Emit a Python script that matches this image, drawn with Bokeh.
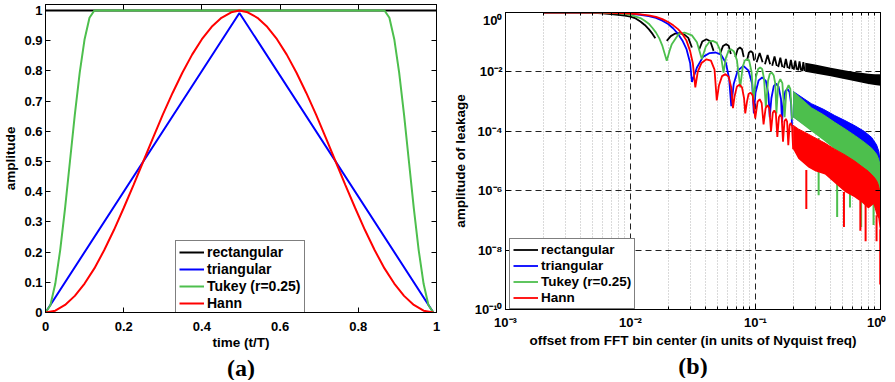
import math
from bokeh.plotting import figure
from bokeh.layouts import row, column
from bokeh.models import FixedTicker, LinearAxis, Legend, LegendItem, Title, Spacer
from bokeh.embed import file_html
from bokeh.resources import INLINE

nan = float("nan")
FONT = "Liberation Sans"
C_BLACK = "#000000"
C_BLUE = "#0000FF"
C_GREEN = "#4DBF4D"
C_RED = "#FF0000"

# ---------------- panel (a): window shapes ----------------
t_rect = [0.0, 1.0]
w_rect = [1.0, 1.0]

t_tri = [0.0, 0.496, 0.992]
w_tri = [0.0, 0.992, 0.0]

t_tukey = [0.0, 0.0125, 0.025, 0.0375, 0.05, 0.0625, 0.075, 0.0875, 0.1, 0.1125, 0.125,
           0.867, 0.8795, 0.892, 0.9045, 0.917, 0.9295, 0.942, 0.9545, 0.967, 0.9795, 0.992]
w_tukey = [0.0, 0.024, 0.095, 0.206, 0.345, 0.5, 0.655, 0.794, 0.905, 0.976, 1.0,
           1.0, 0.976, 0.905, 0.794, 0.655, 0.5, 0.345, 0.206, 0.095, 0.024, 0.0]

t_hann = [0.0, 0.025, 0.05, 0.075, 0.1, 0.125, 0.15, 0.175, 0.2, 0.225, 0.25, 0.275, 0.3,
          0.325, 0.35, 0.375, 0.4, 0.425, 0.45, 0.475, 0.496,
          0.517, 0.542, 0.567, 0.592, 0.617, 0.642, 0.667, 0.692, 0.717, 0.742, 0.767,
          0.792, 0.817, 0.842, 0.867, 0.892, 0.917, 0.942, 0.967, 0.992]
w_hann = [0.0, 0.006, 0.025, 0.055, 0.096, 0.146, 0.206, 0.273, 0.346, 0.422, 0.5, 0.578, 0.655,
          0.727, 0.794, 0.854, 0.905, 0.946, 0.976, 0.994, 1.0,
          0.994, 0.976, 0.946, 0.905, 0.854, 0.794, 0.727, 0.655, 0.578, 0.5, 0.422,
          0.346, 0.273, 0.206, 0.146, 0.096, 0.055, 0.025, 0.006, 0.0]

a_xticks = [0, 0.2, 0.4, 0.6, 0.8, 1]
a_xlabels = ["0", "0.2", "0.4", "0.6", "0.8", "1"]
a_yticks = [0, 0.1, 0.2, 0.3, 0.4, 0.5, 0.6, 0.7, 0.8, 0.9, 1]
a_ylabels = ["0", "0.1", "0.2", "0.3", "0.4", "0.5", "0.6", "0.7", "0.8", "0.9", "1"]

# ---------------- panel (b): leakage spectra ----------------
rect_x = [0.002, 0.003, 0.004, 0.005, 0.006, 0.007, 0.008, 0.009, 0.010, 0.011, 0.012, 0.013, 0.014, 0.015, 0.0158, nan,
          0.0195, 0.021, 0.0228, 0.025, 0.027, 0.029, 0.031, nan,
          0.0355, 0.0375, 0.0405, 0.0435, 0.0462, nan,
          0.052, 0.055, 0.058, 0.061, 0.0635, nan,
          0.069, 0.072, 0.075, 0.078, 0.0805, nan,
          0.0855, 0.0885, 0.0917, 0.095, 0.0975, nan,
          0.102, 0.108, 0.114, nan,
          0.119, 0.125, 0.131, nan,
          0.136, 0.142, 0.148, nan,
          0.152, 0.158, 0.164, nan,
          0.169, 0.175, 0.181, nan,
          0.186, 0.192, 0.198, nan,
          0.202, 0.208, 0.214, nan,
          0.219, 0.225, 0.231, nan,
          0.236, 0.2415, 0.247]
rect_y = [0.998, 0.995, 0.985, 0.97, 0.94, 0.885, 0.84, 0.79, 0.73, 0.63, 0.50, 0.38, 0.275, 0.19, 0.136, nan,
          0.111, 0.16, 0.195, 0.20, 0.18, 0.14, 0.066, nan,
          0.058, 0.105, 0.126, 0.108, 0.051, nan,
          0.040, 0.075, 0.086, 0.076, 0.040, nan,
          0.032, 0.058, 0.066, 0.058, 0.032, nan,
          0.024, 0.044, 0.050, 0.044, 0.024, nan,
          0.021, 0.043, 0.021, nan,
          0.018, 0.037, 0.018, nan,
          0.016, 0.033, 0.016, nan,
          0.0145, 0.030, 0.0145, nan,
          0.0135, 0.0275, 0.0135, nan,
          0.0125, 0.0255, 0.0125, nan,
          0.0118, 0.0238, 0.0118, nan,
          0.0112, 0.0225, 0.0112, nan,
          0.0106, 0.0213, 0.0106]
rect_band_x = [0.25, 0.3, 0.4, 0.5, 0.6, 0.7, 0.8, 0.9, 1.0]
rect_band_hi = [0.0205, 0.0176, 0.0138, 0.0116, 0.0102, 0.0093, 0.0087, 0.0084, 0.0083]
rect_band_lo = [0.0101, 0.0089, 0.0072, 0.0059, 0.0050, 0.0044, 0.0039, 0.0036, 0.0034]

tri_x = [0.002, 0.004, 0.006, 0.008, 0.010, 0.012, 0.014, 0.016, 0.018, 0.020, 0.022, 0.024, 0.026, 0.028, 0.030, 0.031,
         0.034, 0.038, 0.043, 0.048, 0.053, 0.058, 0.0615, 0.064,
         0.067, 0.072, 0.080, 0.088, 0.094, 0.097,
         0.100, 0.106, 0.113, 0.121, 0.127, 0.130,
         0.134, 0.140, 0.146, 0.153, 0.160, 0.163,
         0.167, 0.173, 0.180, 0.187, 0.193, 0.196]
tri_y = [0.999, 0.99, 0.975, 0.95, 0.90, 0.84, 0.76, 0.66, 0.53, 0.41, 0.29, 0.19, 0.115, 0.06, 0.02, 0.0046,
         0.014, 0.032, 0.043, 0.045, 0.038, 0.02, 0.006, 0.0007,
         0.004, 0.011, 0.016, 0.011, 0.004, 0.0004,
         0.002, 0.0052, 0.0065, 0.005, 0.0017, 0.0003,
         0.0013, 0.0033, 0.004, 0.0032, 0.0012, 0.0002,
         0.0009, 0.0022, 0.0027, 0.0021, 0.0008, 0.00015]
tri_band_x = [0.2, 0.28, 0.35, 0.43, 0.52, 0.63, 0.74, 0.85, 0.93, 0.97, 1.0]
tri_band_hi = [0.0022, 0.00085, 0.00055, 0.00034, 0.00023, 0.00015, 0.0001, 0.000062, 0.000035, 0.000021, 0.000008]
tri_band_lo = [0.0003, 0.00011, 0.00007, 0.00004, 0.000027, 0.000017, 0.000011, 0.000007, 0.000004, 0.0000025, 0.0000012]

tuk_x = [0.002, 0.004, 0.006, 0.008, 0.010, 0.012, 0.013, 0.014, 0.015, 0.016, 0.017, 0.018, 0.0195,
         0.0205, 0.0214, 0.0242, 0.027, 0.031, 0.034, 0.0372,
         0.040, 0.043, 0.0455, 0.049, 0.052, 0.0555,
         0.058, 0.061, 0.0635, 0.067, 0.071, 0.0755,
         0.079, 0.082, 0.085, 0.089, 0.093, 0.0964,
         0.101, 0.105, 0.109, 0.113, 0.117, 0.121,
         0.126, 0.130, 0.135, 0.140, 0.144, 0.147,
         0.152, 0.158, 0.164, 0.171,
         0.177, 0.184, 0.190, 0.196]
tuk_y = [0.999, 0.99, 0.97, 0.93, 0.83, 0.65, 0.53, 0.42, 0.30, 0.21, 0.135, 0.075, 0.0236,
         0.05, 0.086, 0.186, 0.212, 0.17, 0.10, 0.027,
         0.07, 0.105, 0.111, 0.095, 0.055, 0.0095,
         0.03, 0.052, 0.058, 0.05, 0.025, 0.003,
         0.015, 0.024, 0.027, 0.024, 0.01, 0.0011,
         0.007, 0.0125, 0.014, 0.0125, 0.006, 0.00063,
         0.005, 0.0085, 0.0095, 0.0075, 0.004, 0.0004,
         0.004, 0.0057, 0.0042, 0.0003,
         0.0025, 0.0036, 0.0027, 0.00025]
tuk_band_x = [0.2, 0.28, 0.35, 0.43, 0.52, 0.63, 0.74, 0.85, 0.93, 0.97, 1.0]
tuk_band_hi = [0.0022, 0.00062, 0.00036, 0.0002, 0.00012, 0.00007, 0.000043, 0.000027, 0.000017, 0.000011, 0.000006]
tuk_band_lo = [0.0003, 0.0001, 0.00005, 0.000025, 0.000015, 0.000008, 0.000005, 0.000003, 0.0000015, 0.0000008, 0.0000005]
tuk_spike_x = [0.32, 0.45, 0.57, 0.70, 0.80, 0.88]
tuk_spike_hi = [6e-5, 2.3e-5, 1.3e-5, 6e-6, 4e-6, 2.5e-6]
tuk_spike_lo = [7e-7, 1.3e-7, 2.7e-7, 6e-8, 5e-7, 7e-8]

hann_x = [0.002, 0.004, 0.006, 0.008, 0.010, 0.012, 0.014, 0.016, 0.018, 0.020, 0.022, 0.024, 0.026, 0.028, 0.030, 0.0315, 0.033,
          0.0345, 0.037, 0.0405, 0.044, 0.047, 0.049,
          0.051, 0.054, 0.0575, 0.061, 0.064, 0.066,
          0.068, 0.071, 0.0745, 0.078, 0.081, 0.0828,
          0.0855, 0.088, 0.0915, 0.095, 0.0995,
          0.104, 0.108, 0.112, 0.116,
          0.1205, 0.125, 0.129, 0.133,
          0.1375, 0.1415, 0.1455, 0.1495,
          0.154, 0.158, 0.162, 0.166,
          0.1705, 0.175, 0.179, 0.183,
          0.1875, 0.1915, 0.196, 0.2]
hann_y = [1.0, 0.995, 0.985, 0.96, 0.925, 0.87, 0.80, 0.71, 0.60, 0.48, 0.37, 0.275, 0.19, 0.115, 0.05, 0.02, 0.003,
          0.01, 0.02, 0.0265, 0.024, 0.012, 0.0011,
          0.0035, 0.0072, 0.0084, 0.0068, 0.003, 0.0006,
          0.0015, 0.0032, 0.0037, 0.003, 0.0013, 0.0004,
          0.001, 0.0018, 0.002, 0.0016, 0.00027,
          0.001, 0.0012, 0.0009, 0.00017,
          0.0006, 0.00075, 0.0006, 0.0001,
          0.00042, 0.0005, 0.0004, 0.000065,
          0.0003, 0.00036, 0.0003, 0.000045,
          0.00022, 0.00026, 0.00021, 0.000034,
          0.00016, 0.00019, 0.00015, 0.000025]
hann_band_x = [0.2, 0.22, 0.265, 0.3, 0.36, 0.43, 0.52, 0.62, 0.71, 0.8, 0.88, 0.93, 0.96, 0.98, 1.0]
hann_band_hi = [1.6e-4, 1.2e-4, 8e-5, 6e-5, 4e-5, 2.5e-5, 1.6e-5, 1.0e-5, 6.5e-6, 4.5e-6, 3e-6, 2.2e-6, 1.6e-6, 1.1e-6, 6e-7]
hann_band_lo = [2.5e-5, 1.2e-5, 6e-6, 4.5e-6, 3.5e-6, 1.8e-6, 9e-7, 6e-7, 4e-7, 2.5e-7, 3.5e-7, 1.5e-7, 1.2e-7, 6e-8, 4e-8]
hann_spike_x = [0.255, 0.51, 0.69, 0.76, 0.93, 0.995]
hann_spike_hi = [5e-6, 9e-7, 4.5e-7, 3.5e-7, 1.5e-7, 5e-8]
hann_spike_lo = [2.4e-7, 6e-8, 4.5e-8, 2e-8, 2e-8, 7e-10]

b_xticks = [1e-3, 1e-2, 1e-1, 1.0]
b_xlabels = ["10\u207b\u00b3", "10\u207b\u00b2", "10\u207b\u00b9", "10\u2070"]
b_xminor = [m * d for d in (1e-3, 1e-2, 1e-1) for m in (2, 3, 4, 5, 6, 7, 8, 9)]
b_yticks = [1e-10, 1e-8, 1e-6, 1e-4, 1e-2, 1.0]
b_ylabels = ["10\u207b\u00b9\u2070", "10\u207b\u2078", "10\u207b\u2076", "10\u207b\u2074", "10\u207b\u00b2", "10\u2070"]

labels = ["rectangular", "triangular", "Tukey (r=0.25)", "Hann"]


def style_axis(ax, label_size="13px"):
    ax.major_tick_in = 5
    ax.major_tick_out = 0
    ax.minor_tick_in = 0
    ax.minor_tick_out = 0
    ax.axis_line_color = "black"
    ax.major_tick_line_color = "black"
    ax.major_label_text_font = FONT
    ax.major_label_text_font_style = "bold"
    ax.major_label_text_font_size = label_size
    ax.major_label_text_color = "black"
    ax.axis_label_text_font = FONT
    ax.axis_label_text_font_style = "bold"
    ax.axis_label_text_font_size = "13.5px"
    ax.axis_label_text_color = "black"


def box_axis(ticks, minor=None):
    ax = LinearAxis(ticker=FixedTicker(ticks=ticks, minor_ticks=minor or []))
    ax.major_label_overrides = {t: " " for t in ticks}
    ax.major_label_text_font_size = "1px"
    ax.major_label_text_alpha = 0.0
    ax.major_label_standoff = 0
    ax.major_tick_in = 5
    ax.major_tick_out = 0
    ax.minor_tick_in = 3 if minor else 0
    ax.minor_tick_out = 0
    ax.axis_line_color = "black"
    return ax


def make_legend(items, loc, size, lh):
    leg = Legend(items=items, location=loc)
    leg.border_line_color = "black"
    leg.border_line_width = 1
    leg.background_fill_color = "white"
    leg.background_fill_alpha = 1.0
    leg.label_text_font = FONT
    leg.label_text_font_style = "bold"
    leg.label_text_font_size = size
    leg.label_text_color = "black"
    leg.glyph_width = 25
    leg.glyph_height = lh
    leg.label_height = lh
    leg.label_standoff = 3
    leg.padding = 3
    leg.spacing = 1
    leg.margin = 0
    return leg


def panel_tag(text):
    return Title(text=text, align="center", text_font="Liberation Serif", text_font_size="24px",
                 text_font_style="bold", text_color="black", standoff=0)


# ---------------- figure (a) ----------------
p1 = figure(frame_width=391, frame_height=308, x_range=(0, 1), y_range=(0, 1.0199),
            output_backend="svg", toolbar_location=None, title=None,
            min_border_left=39, min_border_right=8, min_border_top=0, min_border_bottom=0)
p1.grid.visible = False
p1.outline_line_color = "black"
p1.background_fill_color = "white"
p1.border_fill_color = "white"
p1.xaxis.ticker = FixedTicker(ticks=a_xticks)
p1.xaxis.major_label_overrides = dict(zip(a_xticks, a_xlabels))
p1.yaxis.ticker = FixedTicker(ticks=a_yticks)
p1.yaxis.major_label_overrides = dict(zip(a_yticks, a_ylabels))
p1.xaxis.axis_label = "time (t/T)"
p1.yaxis.axis_label = "amplitude"
for ax in p1.xaxis + p1.yaxis:
    style_axis(ax)
p1.xaxis.major_label_standoff = 9
p1.xaxis.axis_label_standoff = 1
p1.yaxis.major_label_standoff = 3
p1.yaxis.axis_label_standoff = 3
p1.add_layout(box_axis(a_xticks), "above")
p1.add_layout(box_axis(a_yticks), "right")

ra1 = p1.line(t_rect, w_rect, line_color=C_BLACK, line_width=2)
ra2 = p1.line(t_tri, w_tri, line_color=C_BLUE, line_width=2)
ra3 = p1.line(t_tukey, w_tukey, line_color=C_GREEN, line_width=2)
ra4 = p1.line(t_hann, w_hann, line_color=C_RED, line_width=2)
leg1 = make_legend([LegendItem(label=l, renderers=[r]) for l, r in zip(labels, [ra1, ra2, ra3, ra4])],
                   (130, -3), "14px", 16)
p1.add_layout(leg1)
p1.add_layout(panel_tag("(a)"), "below")

# ---------------- figure (b) ----------------
p2 = figure(frame_width=375, frame_height=297, x_axis_type="log", y_axis_type="log",
            x_range=(1e-3, 1.0), y_range=(1e-10, 1.0),
            output_backend="svg", toolbar_location=None, title=None,
            min_border_left=61, min_border_right=6, min_border_top=0, min_border_bottom=0)
p2.outline_line_color = "black"
p2.background_fill_color = "white"
p2.border_fill_color = "white"
xt = FixedTicker(ticks=b_xticks, minor_ticks=b_xminor)
yt = FixedTicker(ticks=b_yticks, minor_ticks=[])
p2.xaxis.ticker = xt
p2.yaxis.ticker = yt
p2.xaxis.major_label_overrides = dict(zip(b_xticks, b_xlabels))
p2.yaxis.major_label_overrides = dict(zip(b_yticks, b_ylabels))
p2.xaxis.axis_label = "offset from FFT bin center (in units of Nyquist freq)"
p2.yaxis.axis_label = "amplitude of leakage"
for ax in p2.xaxis + p2.yaxis:
    style_axis(ax)
p2.xaxis.minor_tick_in = 3
p2.xaxis.major_label_standoff = 5
p2.xaxis.axis_label_standoff = 0
p2.yaxis.major_label_standoff = 3
p2.yaxis.axis_label_standoff = 4
p2.add_layout(box_axis(b_xticks, b_xminor), "above")
p2.add_layout(box_axis(b_yticks), "right")

p2.xgrid.ticker = xt
p2.ygrid.ticker = yt
for g in (p2.xgrid, p2.ygrid):
    g.grid_line_color = "#222222"
    g.grid_line_dash = "6 4"
    g.grid_line_width = 1
p2.xgrid.minor_grid_line_color = "#b4b4b4"
p2.xgrid.minor_grid_line_dash = "1 2"

LW = 1.8
p2.varea(x=rect_band_x, y1=rect_band_lo, y2=rect_band_hi, fill_color=C_BLACK)
rb1 = p2.line(rect_x, rect_y, line_color=C_BLACK, line_width=LW)
p2.varea(x=tri_band_x, y1=tri_band_lo, y2=tri_band_hi, fill_color=C_BLUE)
p2.line(tri_band_x, tri_band_hi, line_color=C_BLUE, line_width=1)
rb2 = p2.line(tri_x, tri_y, line_color=C_BLUE, line_width=LW)
p2.varea(x=tuk_band_x, y1=tuk_band_lo, y2=tuk_band_hi, fill_color=C_GREEN)
p2.line(tuk_band_x, tuk_band_hi, line_color=C_GREEN, line_width=1)
p2.segment(x0=tuk_spike_x, y0=tuk_spike_hi, x1=tuk_spike_x, y1=tuk_spike_lo, line_color=C_GREEN, line_width=2)
rb3 = p2.line(tuk_x, tuk_y, line_color=C_GREEN, line_width=LW)
p2.varea(x=hann_band_x, y1=hann_band_lo, y2=hann_band_hi, fill_color=C_RED)
p2.line(hann_band_x, hann_band_hi, line_color=C_RED, line_width=1)
p2.segment(x0=hann_spike_x, y0=hann_spike_hi, x1=hann_spike_x, y1=hann_spike_lo, line_color=C_RED, line_width=2)
rb4 = p2.line(hann_x, hann_y, line_color=C_RED, line_width=LW)

leg2 = make_legend([LegendItem(label=l, renderers=[r]) for l, r in zip(labels, [rb1, rb2, rb3, rb4])],
                   (4, 0), "13.5px", 15)
p2.add_layout(leg2)
p2.add_layout(panel_tag("(b)"), "below")

layout = row(column(Spacer(width=10, height=4), p1), column(Spacer(width=10, height=12), p2))
open("out.html", "w").write(file_html(layout, INLINE, title="windows"))
